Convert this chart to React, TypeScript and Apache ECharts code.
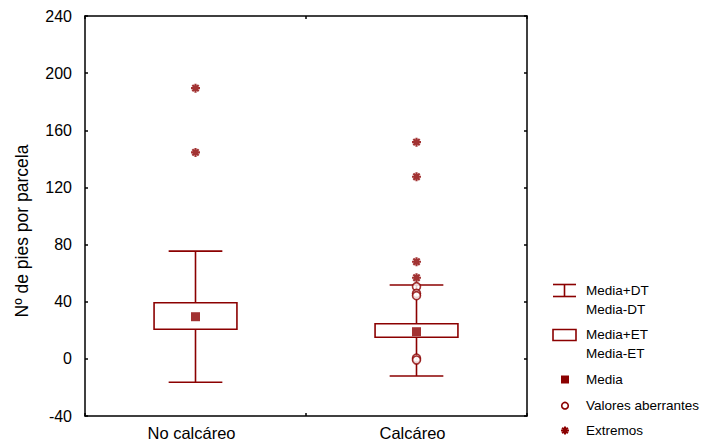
import React, { useEffect, useRef } from "react";
import * as echarts from "echarts";

const categories = ["No calcáreo", "Calcáreo"];
const meanValues = [29.5, 19];
const seLow = [20.7, 15.1];
const seHigh = [39.3, 24.6];
const sdLow = [-16.4, -12];
const sdHigh = [75.4, 51.7];
const outlierPoints: [number, number][] = [
  [1, 50.5],
  [1, 45.8],
  [1, 44.2],
  [1, 0.5],
  [1, -0.8],
];
const extremePoints: [number, number][] = [
  [0, 189.5],
  [0, 144.5],
  [1, 151.7],
  [1, 127.5],
  [1, 68],
  [1, 56.8],
];
const yTicks = { min: -40, max: 240, interval: 40 };
const legendLabels = [
  "Media+DT",
  "Media-DT",
  "Media+ET",
  "Media-ET",
  "Media",
  "Valores aberrantes",
  "Extremos",
];

const RED = "#8B0000";
const FONT = "Liberation Sans, Arial, sans-serif";
const STAR =
  "path://M-1.2,-5L1.2,-5L1.2,5L-1.2,5Z M-5,-1.2L5,-1.2L5,1.2L-5,1.2Z M-2.65,-4.35L4.35,2.65L2.65,4.35L-4.35,-2.65Z M2.65,-4.35L4.35,-2.65L-2.65,4.35L-4.35,2.65Z";

export default function App() {
  const ref = useRef<HTMLDivElement>(null);
  useEffect(() => {
    if (!ref.current) return;
    const chart = echarts.init(ref.current, null, { renderer: "svg" });
    const boxData = categories.map((_, i) => [i, sdLow[i], seLow[i], seHigh[i], sdHigh[i]]);
    const meanData = categories.map((_, i) => [i, meanValues[i]]);
    const tx = 586;
    const textStyle = (y: number, t: string) => ({
      type: "text",
      x: tx,
      y,
      style: { text: t, fill: "#000", font: `13.5px ${FONT}`, textVerticalAlign: "middle", textAlign: "left" },
    });
    const axisLineStyle = { show: true, onZero: false, lineStyle: { color: "#000", width: 1.5 } };
    const tickStyle = { show: true, inside: true, length: 3, lineStyle: { color: "#000", width: 1.5 } };
    const option: any = {
      animation: false,
      backgroundColor: "#fff",
      grid: { left: 85, top: 16, right: 176, bottom: 27, show: false },
      xAxis: [
        {
          type: "category",
          data: categories,
          position: "bottom",
          boundaryGap: true,
          axisLine: axisLineStyle,
          axisTick: tickStyle,
          axisLabel: { color: "#000", fontSize: 16.5, fontFamily: FONT, margin: 8, padding: [0, 8, 0, 0] },
          splitLine: { show: false },
        },
        {
          type: "category",
          data: categories,
          position: "top",
          boundaryGap: true,
          axisLine: axisLineStyle,
          axisTick: tickStyle,
          axisLabel: { show: false },
          splitLine: { show: false },
        },
      ],
      yAxis: [
        {
          type: "value",
          min: yTicks.min,
          max: yTicks.max,
          interval: yTicks.interval,
          position: "left",
          axisLine: axisLineStyle,
          axisTick: tickStyle,
          axisLabel: { color: "#000", fontSize: 16, fontFamily: FONT, margin: 13 },
          splitLine: { show: false },
        },
        {
          type: "value",
          min: yTicks.min,
          max: yTicks.max,
          interval: yTicks.interval,
          position: "right",
          axisLine: axisLineStyle,
          axisTick: tickStyle,
          axisLabel: { show: false },
          splitLine: { show: false },
        },
      ],
      series: [
        {
          type: "custom",
          xAxisIndex: 0,
          yAxisIndex: 0,
          z: 2,
          data: boxData,
          renderItem: (params: any, api: any) => {
            const c = api.value(0);
            const x = api.coord([c, 0])[0];
            const band = api.size([1, 0])[0];
            const boxW = band * 0.375;
            const capW = band * 0.243;
            const yLo = api.coord([c, api.value(1)])[1];
            const ySeLo = api.coord([c, api.value(2)])[1];
            const ySeHi = api.coord([c, api.value(3)])[1];
            const yHi = api.coord([c, api.value(4)])[1];
            const ls = { stroke: RED, lineWidth: 1.6, fill: null };
            return {
              type: "group",
              children: [
                { type: "line", shape: { x1: x, y1: yLo, x2: x, y2: ySeLo }, style: ls },
                { type: "line", shape: { x1: x, y1: ySeHi, x2: x, y2: yHi }, style: ls },
                { type: "line", shape: { x1: x - capW / 2, y1: yLo, x2: x + capW / 2, y2: yLo }, style: ls },
                { type: "line", shape: { x1: x - capW / 2, y1: yHi, x2: x + capW / 2, y2: yHi }, style: ls },
                {
                  type: "rect",
                  shape: { x: x - boxW / 2, y: ySeHi, width: boxW, height: ySeLo - ySeHi },
                  style: { stroke: RED, lineWidth: 1.6, fill: "#fff" },
                },
              ],
            };
          },
        },
        {
          type: "scatter",
          z: 3,
          data: meanData,
          symbol: "rect",
          symbolSize: 9,
          itemStyle: { color: RED },
        },
        {
          type: "scatter",
          z: 4,
          data: outlierPoints,
          symbol: "circle",
          symbolSize: 8,
          itemStyle: { color: "#fff", borderColor: RED, borderWidth: 1.6 },
        },
        {
          type: "scatter",
          z: 4,
          data: extremePoints,
          symbol: STAR,
          symbolSize: 9,
          itemStyle: { color: RED },
        },
      ],
      graphic: [
        {
          type: "text",
          x: 21.5,
          y: 231,
          rotation: Math.PI / 2,
          style: {
            text: "Nº de pies por parcela",
            fill: "#000",
            font: `17.5px ${FONT}`,
            textAlign: "center",
            textVerticalAlign: "middle",
          },
        },
        { type: "line", shape: { x1: 553, y1: 284.5, x2: 576, y2: 284.5 }, style: { stroke: RED, lineWidth: 1.6 } },
        { type: "line", shape: { x1: 553, y1: 296.5, x2: 576, y2: 296.5 }, style: { stroke: RED, lineWidth: 1.6 } },
        { type: "line", shape: { x1: 564.5, y1: 284.5, x2: 564.5, y2: 296.5 }, style: { stroke: RED, lineWidth: 1.6 } },
        textStyle(290.7, legendLabels[0]),
        textStyle(309.3, legendLabels[1]),
        { type: "rect", shape: { x: 553, y: 329.5, width: 23, height: 11 }, style: { stroke: RED, lineWidth: 1.6, fill: "#fff" } },
        textStyle(334, legendLabels[2]),
        textStyle(353.3, legendLabels[3]),
        { type: "rect", shape: { x: 561, y: 375.5, width: 8, height: 8 }, style: { fill: RED } },
        textStyle(379.5, legendLabels[4]),
        { type: "circle", shape: { cx: 565, cy: 405.7, r: 3.3 }, style: { stroke: RED, lineWidth: 1.6, fill: "#fff" } },
        textStyle(405.5, legendLabels[5]),
        textStyle(430.5, legendLabels[6]),
        {
          type: "group",
          x: 565,
          y: 430.5,
          children: [
            { type: "rect", shape: { x: -1, y: -4, width: 2, height: 8 }, style: { fill: RED } },
            { type: "rect", shape: { x: -4, y: -1, width: 8, height: 2 }, style: { fill: RED } },
            { type: "rect", shape: { x: -1, y: -4, width: 2, height: 8 }, rotation: Math.PI / 4, style: { fill: RED } },
            { type: "rect", shape: { x: -1, y: -4, width: 2, height: 8 }, rotation: -Math.PI / 4, style: { fill: RED } },
          ],
        },
      ],
    };
    chart.setOption(option);
    return () => chart.dispose();
  }, []);
  return (
    <div
      ref={ref}
      style={{ position: "absolute", left: 0, top: 0, width: 703, height: 443 }}
    />
  );
}
